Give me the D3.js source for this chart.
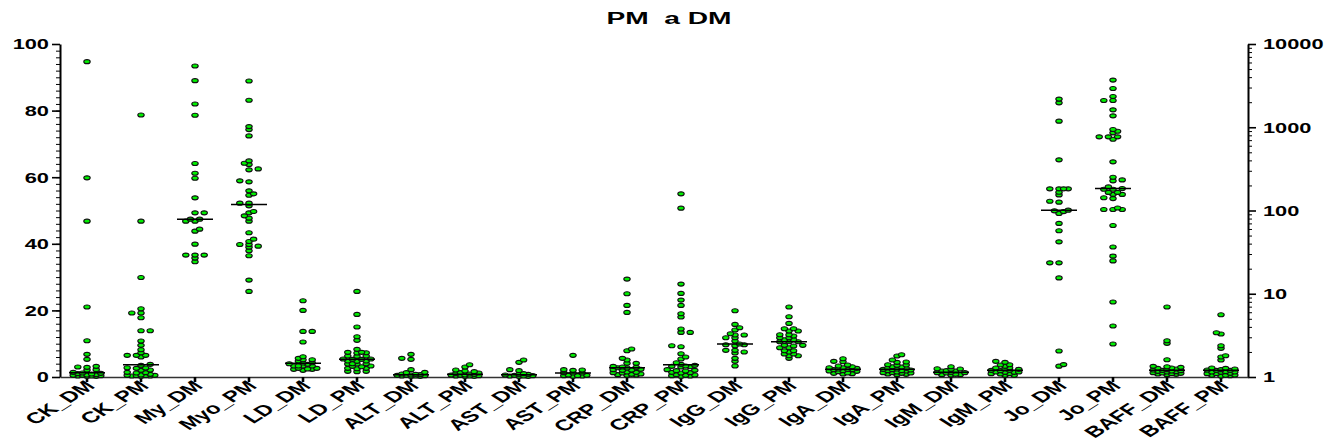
<!DOCTYPE html>
<html>
<head>
<meta charset="utf-8">
<script src="https://cdn.jsdelivr.net/npm/d3@7"></script>
<style>
  body { margin: 0; background: #fff; }
  svg { display: block; }
  text { font-family: "Liberation Sans", Arial, sans-serif; font-weight: bold; fill: #000; }
</style>
</head>
<body>
<svg id="chart" width="1326" height="442"></svg>
<script>
// ---- data -------------------------------------------------------------
const titleText = "PM  a DM";
const categories = ["CK_DM", "CK_PM", "My_DM", "Myo_PM", "LD_DM", "LD_PM", "ALT_DM", "ALT_PM",
  "AST_DM", "AST_PM", "CRP_DM", "CRP_PM", "IgG_DM", "IgG_PM", "IgA_DM", "IgA_PM",
  "IgM_DM", "IgM_PM", "Jo_DM", "Jo_PM", "BAFF_DM", "BAFF_PM"];
// groups plotted against the right-hand (log) axis
const logCategories = ["Jo_DM", "Jo_PM"];
const leftTicks = [0, 20, 40, 60, 80, 100];
const rightTicks = [1, 10, 100, 1000, 10000];

const ckDM = [94.7, 59.8, 46.8, 21.0, 10.9, 6.8, 5.3, 3.2, 3.0, 2.9, 2.2, 2.1, 1.4, 1.2, 1.1, 1.0, 0.9, 0.7, 0.6, 0.5, 0.5, 0.4, 0.3, 0.3, 0.2, 0.2];
const ckPM = [78.7, 46.8, 29.9, 20.5, 19.2, 19.2, 17.8, 13.9, 13.9, 10.8, 9.5, 8.2, 7.3, 6.5, 6.5, 6.5, 6.0, 3.8, 3.5, 2.8, 2.7, 2.6, 2.1, 2.0, 1.4, 1.3, 1.2, 0.8, 0.6, 0.5, 0.5, 0.4, 0.4, 0.3, 0.3, 0.2];
const myDM = [93.4, 89.0, 82.0, 78.6, 64.1, 61.2, 59.7, 53.8, 49.3, 49.3, 47.4, 47.4, 46.8, 46.8, 44.4, 43.8, 39.9, 36.6, 36.6, 36.6, 35.7, 34.6];
const myoPM = [88.9, 83.1, 75.2, 74.3, 72.4, 64.9, 64.2, 63.8, 62.5, 62.2, 58.9, 58.6, 55.9, 55.0, 54.6, 52.2, 52.2, 51.4, 49.7, 49.3, 48.4, 47.7, 46.8, 43.3, 41.4, 40.7, 39.8, 39.8, 39.3, 39.0, 37.9, 36.4, 29.1, 25.7];
const ldDM = [22.9, 20.0, 13.7, 13.7, 10.5, 6.1, 5.6, 5.2, 5.2, 4.8, 4.3, 4.2, 4.0, 3.8, 3.3, 3.3, 3.3, 3.3, 2.6, 2.6, 2.4, 2.3, 2.3, 2.0];
const ldPM = [25.7, 18.8, 15.0, 12.1, 11.0, 8.3, 7.4, 7.4, 7.3, 7.2, 6.3, 6.3, 6.2, 5.4, 5.4, 5.3, 5.3, 4.8, 4.8, 4.7, 4.0, 4.0, 3.9, 3.9, 3.3, 3.2, 3.1, 2.6, 2.6, 2.5, 1.7, 1.7, 1.6];
const altDM = [6.8, 5.6, 5.3, 2.2, 1.4, 1.3, 0.9, 0.8, 0.7, 0.6, 0.5, 0.5, 0.4, 0.3, 0.3, 0.2, 0.2];
const altPM = [3.7, 3.0, 2.1, 1.8, 1.6, 1.3, 1.2, 1.0, 0.9, 0.8, 0.6, 0.6, 0.5, 0.4, 0.3, 0.3, 0.2, 0.2];
const astDM = [5.1, 4.4, 2.2, 1.9, 1.0, 0.8, 0.8, 0.6, 0.5, 0.4, 0.3, 0.3, 0.2, 0.2];
const astPM = [6.5, 2.2, 2.1, 2.0, 1.3, 1.2, 1.2, 0.6, 0.5, 0.4, 0.4, 0.3, 0.2];
const crpDM = [29.4, 25.0, 21.5, 19.4, 8.4, 7.9, 5.6, 5.1, 4.1, 4.1, 3.2, 3.0, 2.9, 2.8, 2.7, 2.3, 2.2, 2.1, 2.0, 1.5, 1.4, 1.3, 1.2, 0.9, 0.8, 0.7, 0.6, 0.5];
const crpPM = [55.0, 50.7, 27.9, 25.1, 23.1, 21.5, 19.0, 18.0, 14.4, 13.4, 13.4, 9.4, 9.1, 7.0, 6.0, 5.4, 4.3, 3.8, 3.5, 3.3, 3.2, 3.1, 3.0, 2.2, 2.0, 1.9, 1.8, 1.4, 1.3, 1.2, 0.7, 0.6, 0.5, 0.4, 0.3, 0.2];
const igGDM = [19.9, 15.8, 14.8, 14.1, 13.0, 12.6, 12.6, 11.8, 11.8, 10.8, 9.9, 9.7, 9.7, 9.4, 8.0, 8.0, 7.5, 7.2, 5.6, 4.7, 3.3];
const igGPM = [21.0, 18.1, 16.1, 14.5, 14.5, 13.8, 13.8, 12.7, 12.7, 12.3, 11.8, 11.8, 11.2, 11.2, 10.6, 10.6, 10.6, 9.5, 9.5, 9.3, 8.8, 8.8, 7.9, 7.9, 7.5, 6.9, 6.9, 6.4, 6.4, 5.6];
const igADM = [5.5, 4.7, 4.6, 3.6, 3.3, 3.1, 2.8, 2.8, 2.6, 2.4, 2.3, 2.2, 2.2, 1.9, 1.8, 1.7, 1.6, 1.2, 1.1, 1.0, 0.9];
const igAPM = [6.7, 6.3, 5.1, 4.5, 4.4, 3.7, 3.6, 3.5, 3.1, 3.0, 2.7, 2.6, 2.4, 2.3, 2.2, 2.1, 1.9, 1.9, 1.8, 1.5, 1.3, 1.3, 1.2, 1.1, 0.9, 0.8, 0.7];
const igMDM = [3.1, 2.5, 2.4, 2.3, 1.9, 1.8, 1.8, 1.4, 1.3, 1.3, 1.2, 0.8, 0.7, 0.7, 0.6];
const igMPM = [4.7, 4.4, 3.7, 3.6, 3.2, 2.8, 2.7, 2.4, 2.3, 2.0, 2.0, 1.9, 1.5, 1.5, 1.4, 1.4, 1.0, 1.0, 0.9, 0.5, 0.5];
const joDM = [2177, 1964, 1183, 406, 182, 182, 182, 182, 166, 154, 129, 126, 101, 99, 97, 92, 70, 57, 42, 23.5, 23.5, 15.5, 2.05, 1.41, 1.35];
const joPM = [3682, 2926, 2344, 2099, 2099, 1619, 1371, 940, 897, 857, 767, 767, 767, 719, 384, 251, 233, 227, 192, 184, 180, 180, 165, 165, 156, 156, 142, 139, 107, 103, 103, 103, 66, 36.5, 28.3, 24.8, 7.97, 4.10, 2.49];
const baffDM = [21.0, 10.9, 10.1, 5.2, 3.2, 3.1, 2.9, 2.7, 2.6, 2.4, 2.2, 2.1, 2.0, 1.9, 1.8, 1.7, 1.6, 1.5, 1.3, 1.2, 1.1, 1.0, 0.9, 0.8, 0.7];
const baffPM = [18.7, 13.3, 12.9, 9.4, 8.6, 6.4, 6.0, 5.1, 2.7, 2.6, 2.4, 2.2, 2.1, 2.0, 2.0, 1.6, 1.5, 1.5, 1.4, 1.1, 1.0, 1.0, 0.6, 0.5, 0.5, 0.4, 0.3];

const seriesValues = [ckDM, ckPM, myDM, myoPM, ldDM, ldPM, altDM, altPM, astDM, astPM,
  crpDM, crpPM, igGDM, igGPM, igADM, igAPM, igMDM, igMPM, joDM, joPM, baffDM, baffPM];

// ---- layout -----------------------------------------------------------
const SX = 1.58;              // horizontal stretch of glyphs
const plotLeft = 60, plotRight = 1248, plotTop = 44, plotBottom = 377;
const svg = d3.select("#chart");

const x = d3.scaleBand().domain(categories).range([plotLeft, plotRight]);
const yLin = d3.scaleLinear().domain([0, 100]).range([plotBottom, plotTop]);
const yLog = d3.scaleLog().domain([1, 10000]).range([plotBottom, plotTop]);

// title
svg.append("text")
  .attr("x", 669).attr("y", 24)
  .attr("text-anchor", "middle")
  .style("font-size", "16px")
  .style("white-space", "pre")
  .attr("textLength", 125).attr("lengthAdjust", "spacingAndGlyphs")
  .text(titleText);

function styleAxis(g, w) {
  g.selectAll("path.domain").attr("stroke", "#000").attr("stroke-width", w);
  g.selectAll(".tick line").attr("stroke", "#000");
}

// left axis: minor then major ticks
const leftMinor = d3.range(0, 101, 2);
svg.append("g").attr("transform", `translate(${plotLeft},0)`)
  .call(d3.axisLeft(yLin).tickValues(leftMinor).tickSize(4).tickSizeOuter(0).tickFormat(""))
  .call(g => { g.select("path.domain").remove(); g.selectAll(".tick line").attr("stroke", "#000").attr("stroke-width", 1); });
const gLeft = svg.append("g").attr("transform", `translate(${plotLeft},0)`)
  .call(d3.axisLeft(yLin).tickValues(leftTicks).tickSize(8).tickSizeOuter(0));
styleAxis(gLeft, 2);
gLeft.selectAll(".tick line").attr("stroke-width", 1.6);
gLeft.selectAll(".tick text")
  .attr("x", null).attr("dy", "0.36em")
  .attr("transform", `translate(-11,0) scale(${SX},1)`)
  .style("font-size", "13.8px").attr("fill", "#000");

// right axis (log): minor then major ticks
const rightMinor = [];
for (let d = 0; d < 4; d++) for (let m = 2; m <= 9; m++) rightMinor.push(m * Math.pow(10, d));
svg.append("g").attr("transform", `translate(${plotRight},0)`)
  .call(d3.axisRight(yLog).tickValues(rightMinor).tickSize(4).tickSizeOuter(0).tickFormat(""))
  .call(g => { g.select("path.domain").remove(); g.selectAll(".tick line").attr("stroke", "#000").attr("stroke-width", 1); });
const gRight = svg.append("g").attr("transform", `translate(${plotRight},0)`)
  .call(d3.axisRight(yLog).tickValues(rightTicks).tickSize(8).tickSizeOuter(0).tickFormat(d3.format("d")));
styleAxis(gRight, 2);
gRight.selectAll(".tick line").attr("stroke-width", 1.6);
gRight.selectAll(".tick text")
  .attr("x", null).attr("dy", "0.36em")
  .attr("transform", `translate(15,0) scale(${SX},1)`)
  .style("font-size", "13.8px").attr("fill", "#000");

// bottom axis with rotated category labels
const gBottom = svg.append("g").attr("transform", `translate(0,${plotBottom})`)
  .call(d3.axisBottom(x).tickSize(5).tickSizeOuter(0));
gBottom.select("path.domain").attr("stroke", "#333").attr("stroke-width", 1.4);
gBottom.selectAll(".tick line").attr("stroke", "#000").attr("stroke-width", 2.6);
gBottom.selectAll(".tick text")
  .attr("y", null).attr("dy", null)
  .attr("text-anchor", "end")
  .attr("transform", `translate(9,10) scale(${SX},1) rotate(-45)`)
  .style("font-size", "15.3px").attr("fill", "#000");

// ---- scatter dot plots --------------------------------------------------
// compact swarm: points placed bottom-up, shifted sideways (within a limited
// width) until they no longer collide; when the band is full the least
// crowded slot is used
function swarm(values, yScale, cx) {
  const pts = values.map(v => ({ v, y: yScale(v) })).sort((a, b) => b.y - a.y);
  const placed = [];
  const step = 4.6, ax = 5.2, by = 2.6, maxK = 3;
  let side = 1;
  pts.forEach(p => {
    let best = null, bestScore = -Infinity;
    for (let k = 0; k <= 2 * maxK; k++) {
      const mag = Math.ceil(k / 2);
      const off = k === 0 ? 0 : (k % 2 === 1 ? side : -side) * mag * step;
      let minD = Infinity;
      placed.forEach(q => {
        const dx = (q.dx - off) / ax, dy = (q.y - p.y) / by;
        minD = Math.min(minD, dx * dx + dy * dy);
      });
      if (minD >= 1) { best = off; break; }
      if (minD > bestScore) { bestScore = minD; best = off; }
    }
    p.dx = best;
    if (best !== 0) side = -Math.sign(best);
    placed.push(p);
  });
  return placed.map(p => ({ x: cx + p.dx, y: p.y, v: p.v }));
}

const gPoints = svg.append("g");
const gMedians = svg.append("g");
categories.forEach((cat, i) => {
  const vals = seriesValues[i];
  const yScale = logCategories.includes(cat) ? yLog : yLin;
  const cx = x(cat) + x.bandwidth() / 2;
  const pts = swarm(vals, yScale, cx);
  gPoints.selectAll(null).data(pts).enter().append("ellipse")
    .attr("cx", d => d.x).attr("cy", d => d.y)
    .attr("rx", 3.2).attr("ry", 2.0)
    .attr("fill", "#00f000").attr("stroke", "#111").attr("stroke-width", 1.1);
  const med = d3.median(vals);
  gMedians.append("line")
    .attr("x1", cx - 18).attr("x2", cx + 18)
    .attr("y1", yScale(med)).attr("y2", yScale(med))
    .attr("stroke", "#000").attr("stroke-width", 1.5);
});
</script>
</body>
</html>
